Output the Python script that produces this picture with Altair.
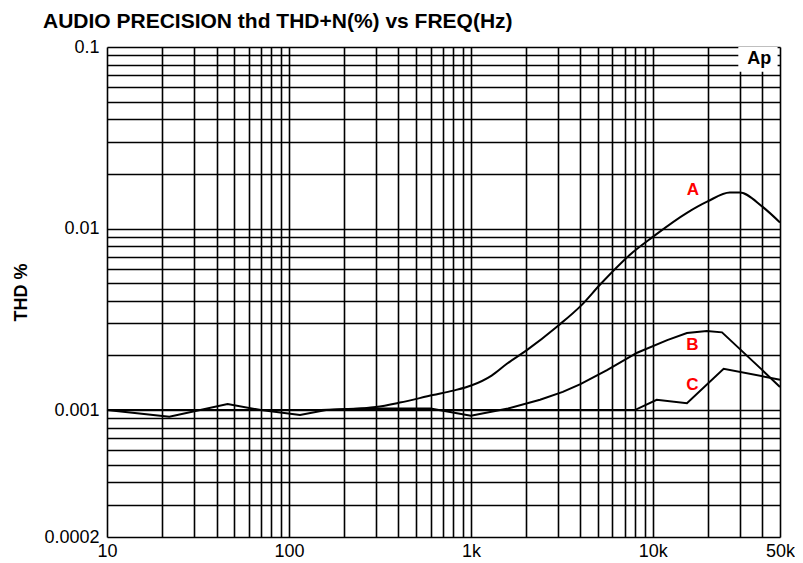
import altair as alt
import pandas as pd

# ---- data ----
freq_a = [10, 160, 208, 300, 407, 618, 800, 1012, 1300, 1577, 2030, 2970, 4070,
          5120, 7760, 10000, 15400, 20000, 26500, 30000, 40000, 50000]
thd_a = [0.001, 0.001, 0.00101, 0.00104, 0.0011, 0.00121, 0.00128, 0.00137, 0.00155,
         0.0018, 0.00214, 0.00288, 0.0038, 0.0049, 0.0074, 0.009, 0.0122, 0.0141,
         0.0158, 0.0158, 0.0132, 0.0108]

freq_b = [10, 150, 250, 600, 1000, 1600, 2400, 3200, 4000, 5600, 8200, 12000,
          15400, 19800, 24000, 40000, 50000]
thd_b = [0.001, 0.001, 0.00102, 0.00102, 0.00093, 0.00102, 0.00114, 0.00126,
         0.00139, 0.00166, 0.00207, 0.00243, 0.00266, 0.00273, 0.00268, 0.00166, 0.00134]

freq_c = [10, 22, 46, 70, 115, 160, 7960, 10500, 15400, 24500, 50000]
thd_c = [0.001, 0.00092, 0.00108, 0.001, 0.00094, 0.001, 0.001, 0.00114, 0.00109,
         0.00169, 0.00147]

label_names = ["A", "B", "C"]
label_freq = [16600, 16500, 16500]
label_thd = [0.0164, 0.00229, 0.00137]

x_grid = [m * 10 ** e for e in range(1, 5) for m in range(1, 10)] + [50000]
y_grid = [0.0002, 0.0003, 0.0004, 0.0005, 0.0006, 0.0007, 0.0008, 0.0009,
          0.001, 0.002, 0.003, 0.004, 0.005, 0.006, 0.007, 0.008, 0.009,
          0.01, 0.02, 0.03, 0.04, 0.05, 0.06, 0.07, 0.08, 0.09, 0.1]

logo_text = ["Ap"]
logo_box_freq = [29500, 48500]
logo_box_thd = [0.1, 0.073]
logo_pos = [38500, 0.0855]

FONT = "Liberation Sans"

df_a = pd.DataFrame({"freq": freq_a, "thd": thd_a, "series": "A"})
df_bc = pd.concat([
    pd.DataFrame({"freq": freq_b, "thd": thd_b, "series": "B"}),
    pd.DataFrame({"freq": freq_c, "thd": thd_c, "series": "C"}),
])
df_labels = pd.DataFrame({"name": label_names, "freq": label_freq, "thd": label_thd})
df_box = pd.DataFrame({"f1": [logo_box_freq[0]], "f2": [logo_box_freq[1]],
                       "t1": [logo_box_thd[0]], "t2": [logo_box_thd[1]]})
df_logo = pd.DataFrame({"text": logo_text, "freq": [logo_pos[0]], "thd": [logo_pos[1]]})

x_label_expr = ("datum.value == 10 ? '10' : datum.value == 100 ? '100' : "
                "datum.value == 1000 ? '1k' : datum.value == 10000 ? '10k' : "
                "datum.value == 50000 ? '50k' : ''")
y_label_expr = ("datum.value == 0.1 ? '0.1' : datum.value == 0.01 ? '0.01' : "
                "datum.value == 0.001 ? '0.001' : datum.value == 0.0002 ? '0.0002' : ''")

x_scale = alt.Scale(type="log", domain=[10, 50000], nice=False)
y_scale = alt.Scale(type="log", domain=[0.0002, 0.1], nice=False)

x_enc = alt.X("freq:Q", scale=x_scale, title=None,
              axis=alt.Axis(values=x_grid, labelExpr=x_label_expr, grid=True,
                            gridColor="black", gridWidth=1.6, gridOpacity=1,
                            ticks=False, domain=False, labelOverlap=False,
                            labelFlush=False, labelPadding=5, labelFontSize=18,
                            labelFont=FONT, labelColor="black"))
y_enc = alt.Y("thd:Q", scale=y_scale, title="THD %",
              axis=alt.Axis(values=y_grid, labelExpr=y_label_expr, grid=True,
                            gridColor="black", gridWidth=1.6, gridOpacity=1,
                            ticks=False, domain=False, labelOverlap=False,
                            labelFlush=False, labelPadding=8, labelFontSize=18,
                            labelFont=FONT, labelColor="black",
                            titleFont=FONT, titleFontSize=18, titleFontWeight="bold",
                            titleColor="black", titlePadding=13))

line_a = alt.Chart(df_a).mark_line(color="black", strokeWidth=2, interpolate="monotone").encode(
    x=x_enc, y=y_enc, detail="series:N")
line_bc = alt.Chart(df_bc).mark_line(color="black", strokeWidth=2).encode(
    x=alt.X("freq:Q", scale=x_scale), y=alt.Y("thd:Q", scale=y_scale), detail="series:N")

labels = alt.Chart(df_labels).mark_text(color="red", fontWeight="bold", fontSize=17,
                                        font=FONT).encode(
    x=alt.X("freq:Q", scale=x_scale), y=alt.Y("thd:Q", scale=y_scale), text="name:N")

box = alt.Chart(df_box).mark_rect(color="white").encode(
    x=alt.X("f1:Q", scale=x_scale), x2="f2:Q",
    y=alt.Y("t1:Q", scale=y_scale), y2="t2:Q")

logo = alt.Chart(df_logo).mark_text(color="black", fontWeight="bold", fontSize=18,
                                    font=FONT).encode(
    x=alt.X("freq:Q", scale=x_scale), y=alt.Y("thd:Q", scale=y_scale), text="text:N")

chart = alt.layer(line_a, line_bc, labels, box, logo).properties(
    width=673, height=490,
    title=alt.TitleParams("AUDIO PRECISION thd THD+N(%) vs FREQ(Hz)", anchor="start",
                          frame="group", dx=-64, offset=6, font=FONT, fontSize=21,
                          fontWeight="bold", color="black"),
    autosize=alt.AutoSizeParams(type="none"),
    padding={"left": 99, "top": 39, "right": 15, "bottom": 26},
).configure_view(stroke="black", strokeWidth=2).configure(background="white")

chart.save("out.html", embed_options={"renderer": "svg", "actions": False})
